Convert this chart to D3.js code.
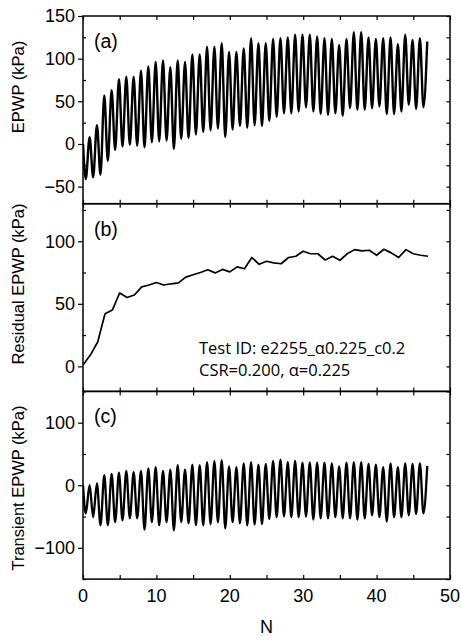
<!DOCTYPE html>
<html lang="en">
<head>
<meta charset="UTF-8">
<title>EPWP vs N</title>
<script src="https://d3js.org/d3.v7.min.js"></script>
<style>
  body { margin: 0; background: white; }
  svg { display: block; font-family: Arial, "Liberation Sans", sans-serif; }
  .tick-label { font-size: 18px; fill: #000; }
  .axis-title { font-size: 16.5px; fill: #000; }
  .panel-label { font-size: 19.5px; fill: #000; }
  .note { font-family: "Open Sans", "Noto Sans", sans-serif; font-size: 16.5px; fill: #000; }
</style>
</head>
<body>
<svg id="chart" width="461" height="642"></svg>
<script>
// x axis
const xTicks = [0, 10, 20, 30, 40, 50];

// (a) total EPWP: peak of each cycle (N = 1..47) and trough after each peak (N = 0..46)
const epwpStart = 0;
const epwpPeaks = [8, 22, 57, 63, 76, 79, 79, 86, 91, 96, 98, 90, 98, 96, 105, 105, 114, 114, 118, 108,
  108, 112, 124, 118, 118, 123, 124, 125, 128, 128, 128, 126, 124, 123, 116, 123, 131, 131, 125, 123,
  124, 125, 117, 128, 122, 124, 120];
const epwpTroughs = [-41, -39, -36, -20, -7, -3, -1, -2, -4, 2, 3, 4, -6, 6, 7, 11, 14, 16, 18, 8,
  17, 21, 19, 22, 21, 27, 32, 36, 36, 38, 43, 38, 35, 34, 36, 33, 42, 40, 40, 42,
  44, 35, 35, 38, 46, 41, 43];

// (b) residual EPWP at N = 0..47
const residual = [1, 9, 19.5, 42, 45, 58.7, 55, 57, 63.5, 65, 67, 65, 66, 66.7, 71.3, 73.2, 75, 77.2, 74.7, 77.5,
  75.5, 79.5, 78, 87, 81.6, 84, 82.7, 82, 87, 88, 92, 90, 90, 85, 88, 84.8, 90, 93.3, 92.3, 92.8,
  88.8, 93.6, 90.7, 87, 93.3, 90, 88.8, 88];

// (c) transient EPWP: peaks (N = 1..47) and troughs (N = 0..46)
const transStart = 0;
const transPeaks = [0, 3, 16, 18, 20, 23, 21, 23, 27, 29, 23, 25, 32, 25, 33, 32, 37, 39, 40, 30,
  29, 35, 37, 33, 34, 39, 41, 37, 39, 36, 36, 36, 36, 35, 30, 36, 37, 37, 34, 33,
  29, 35, 29, 35, 34, 35, 31];
const transTroughs = [-45, -51, -64, -64, -59, -56, -53, -53, -71, -59, -64, -59, -72, -59, -61, -64, -64, -62, -59, -69,
  -59, -61, -64, -63, -62, -54, -51, -50, -51, -51, -50, -55, -53, -53, -51, -53, -53, -55, -53, -48,
  -51, -58, -51, -51, -48, -46, -45];

const panels = [
  { id: "a", title: "EPWP (kPa)", domain: [-70, 150], major: [-50, 0, 50, 100, 150], minorStep: 25, titleY: 87 },
  { id: "b", title: "Residual EPWP (kPa)", domain: [-20, 130], major: [0, 50, 100], minorStep: 25, titleY: 284 },
  { id: "c", title: "Transient EPWP (kPa)", domain: [-150, 150], major: [-100, 0, 100], minorStep: 50, titleY: 488 }
];

const svg = d3.select("#chart");
const plotLeft = 83, plotRight = 450, plotTop = 16, panelH = 187.7;

const x = d3.scaleLinear().domain([0, 50]).range([plotLeft, plotRight]);
const xMinor = d3.range(5, 50, 10);

// turn alternating troughs/peaks into a cycle-by-cycle path
function cycles(start, peaks, troughs) {
  const pts = [[0, start]];
  troughs.forEach((t, k) => {
    pts.push([k + 0.38, t]);
    if (peaks[k] !== undefined) pts.push([k + 0.9, peaks[k]]);
  });
  return pts;
}

const series = {
  a: { pts: cycles(epwpStart, epwpPeaks, epwpTroughs), curve: d3.curveMonotoneX, width: 2.4 },
  b: { pts: residual.map((v, i) => [i, v]), curve: d3.curveLinear, width: 1.7 },
  c: { pts: cycles(transStart, transPeaks, transTroughs), curve: d3.curveMonotoneX, width: 2.3 }
};

panels.forEach((p, i) => {
  const y0 = plotTop + i * panelH, y1 = y0 + panelH;
  const y = d3.scaleLinear().domain(p.domain).range([y1, y0]);
  const minor = d3.range(Math.ceil(p.domain[0] / p.minorStep) * p.minorStep, p.domain[1] + 0.01, p.minorStep)
    .filter(v => !p.major.includes(v));
  const g = svg.append("g");

  // clip
  g.append("clipPath").attr("id", "clip-" + p.id)
    .append("rect").attr("x", plotLeft).attr("y", y0).attr("width", plotRight - plotLeft).attr("height", panelH);

  const s = series[p.id];
  g.append("path")
    .datum(s.pts)
    .attr("clip-path", `url(#clip-${p.id})`)
    .attr("fill", "none")
    .attr("stroke", "#000")
    .attr("stroke-width", s.width)
    .attr("stroke-linejoin", "round")
    .attr("d", d3.line().x(d => x(d[0])).y(d => y(d[1])).curve(s.curve));

  // left axis: labelled major ticks outward, minor inward
  const la = g.append("g").attr("transform", `translate(${plotLeft},0)`)
    .call(d3.axisLeft(y).tickValues(p.major).tickSize(5).tickPadding(3));
  la.select(".domain").remove();
  la.selectAll("text").attr("class", "tick-label");
  la.selectAll("line").attr("stroke-width", 1.2);
  la.attr("font-size", null).attr("font-family", null);
  g.append("g").attr("transform", `translate(${plotLeft},0)`)
    .call(d3.axisRight(y).tickValues(minor).tickSize(3).tickFormat(""))
    .call(a => a.select(".domain").remove())
    .selectAll("line").attr("stroke-width", 1.2);

  // right axis ticks inward
  g.append("g").attr("transform", `translate(${plotRight},0)`)
    .call(d3.axisLeft(y).tickValues(p.major.concat(minor)).tickSize(3.5).tickFormat(""))
    .call(a => a.select(".domain").remove())
    .selectAll("line").attr("stroke-width", 1.2);

  // top and bottom ticks inward
  g.append("g").attr("transform", `translate(0,${y0})`)
    .call(d3.axisBottom(x).tickValues(xTicks.concat(xMinor)).tickSize(4).tickFormat(""))
    .call(a => a.select(".domain").remove())
    .selectAll("line").attr("stroke-width", 1.2);
  const ba = g.append("g").attr("transform", `translate(0,${y1})`)
    .call(d3.axisTop(x).tickValues(xTicks.concat(xMinor)).tickSize(4).tickFormat(""));
  ba.select(".domain").remove();
  ba.selectAll("line").attr("stroke-width", 1.2);

  // frame
  g.append("rect").attr("x", plotLeft).attr("y", y0).attr("width", plotRight - plotLeft).attr("height", panelH)
    .attr("fill", "none").attr("stroke", "#000").attr("stroke-width", 1.5);

  g.append("text").attr("class", "axis-title")
    .attr("transform", `translate(24,${p.titleY}) rotate(-90)`)
    .attr("text-anchor", "middle")
    .text(p.title);

  g.append("text").attr("class", "panel-label")
    .attr("x", 94).attr("y", y0 + 32)
    .text(`(${p.id})`);

  if (p.id === "b") {
    g.append("text").attr("class", "note").attr("x", 199).attr("y", 354)
      .text("Test ID: e2255_\u03b10.225_c0.2");
    g.append("text").attr("class", "note").attr("x", 199).attr("y", 376)
      .text("CSR=0.200, \u03b1=0.225");
  }

  if (i === panels.length - 1) {
    g.append("g").selectAll("text").data(xTicks).enter().append("text")
      .attr("class", "tick-label")
      .attr("x", d => x(d)).attr("y", y1 + 23)
      .attr("text-anchor", "middle")
      .text(d => d);
    g.append("text").attr("class", "axis-title")
      .attr("x", (plotLeft + plotRight) / 2).attr("y", 633)
      .attr("text-anchor", "middle")
      .style("font-size", "18px")
      .text("N");
  }
});
</script>
</body>
</html>
